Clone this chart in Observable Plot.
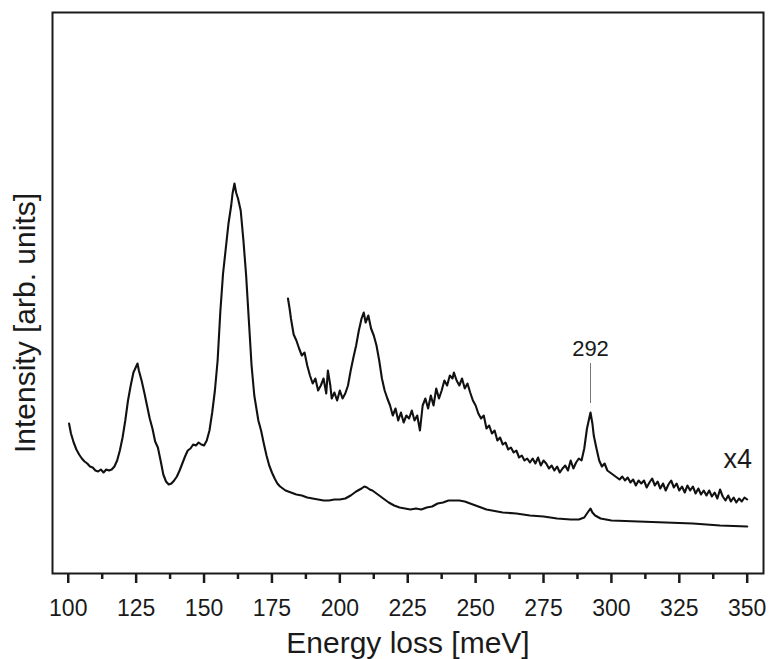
<!DOCTYPE html>
<html><head><meta charset="utf-8">
<script src="https://cdn.jsdelivr.net/npm/d3@7"></script>
<script src="https://cdn.jsdelivr.net/npm/@observablehq/plot@0.6"></script>
<style>body{margin:0;background:#fff}</style>
</head><body><div id="chart"></div>
<script>
// Lower spectrum (as measured)
const lowerE = [100.3,101,102,103,104,105,106,107,108,109,110,111,112,113,114,115,116,117,118,119,120,121,122,123,124,125,125.5,126,127,128,129,130,131,132,133,134,135,136,137,138,139,140,141,142,143,144,145,146,147,148,149,150,151,152,153,154,155,156,157,158,159,160,160.5,161.2,161.8,162.5,163.5,164.5,165.5,166.5,167.5,168.5,170,171,172,173,174,175,176,177,178,179,180,182,184,186,188,190,192,194,196,198,200,202,204,206,208,209,210,211,212,214,216,218,220,222,224,226,228,230,232,234,236,238,240,242,244,246,248,250,252,254,256,258,260,265,270,275,280,285,288,290,291,292.3,293,294,296,298,300,310,320,330,340,350];
const lowerI = [150,140,131,124,119,115,112,110,107,106,103,102,104,101,104,103,104,107,113,123,136,153,173,188,201,207,210,203,193,181,168,155,145,132,126,113,99,92,89,90,93,97,103,110,117,123,125,129,128,131,129,128,133,143,161,183,213,262,300,325,350,368,380,390,381,375,363,333,298,253,208,178,153,143,130,118,108,101,95,90,87,85,83,81,79,78,76,75,74,73,73,74,74,75,78,82,85,87,86,84,83,79,75,71,68,66,65,64,65,64,66,67,70,71,73,73,73,72,70,68,66,64,63,62,61,60,58,57,55,54,54,56,60,65,61,58,55,54,53,52,51,50,48,47];
// Upper spectrum (x4 magnified)
const upperE = [180.9,181.5,182,183,184,185,186,187,188,189,190,191,192,193,194,195,195.6,196.5,197,198,199,200,201,202,203,204,205,206,207,208,208.8,209.5,210.5,211.5,212.5,213.5,214.5,215.5,216.5,217.5,218.5,219.5,220.5,221.5,222.5,223.5,224.5,225.5,226.5,227.5,228.5,229.5,230.5,231.5,232.5,233.5,234.5,235.5,236.5,237.5,238.5,239.5,240.5,241.5,242,243,244,245,246,247,248,249,250,251,252,253,254,255,256,257,258,259,260,261,262,263,264,265,266,267,268,269,270,271,272,273,274,275,276,277,278,279,280,281,282,283,284,285,286,287,288,289,290,291,292.3,293,293.5,294.5,295.5,296.5,297.5,298.5,300,301,302,303,304,305,306,307,308,309,310,311,312,313,314,315,316,317,318,319,320,321,322,323,324,325,326,327,328,329,330,331,332,333,334,335,336,337,338,339,340,341,342,343,344,345,346,347,348,349,350];
const upperI = [275,265,255,239,233,225,218,221,208,198,190,195,183,188,195,180,203,188,175,181,173,183,175,180,188,203,216,228,243,255,261,251,258,245,238,228,213,195,183,175,168,158,165,153,161,151,158,155,163,153,158,143,168,175,165,178,168,185,175,183,193,188,198,195,201,193,188,195,185,190,181,173,168,160,155,158,145,148,140,143,133,136,129,131,124,126,121,123,116,118,113,115,111,115,110,116,108,113,110,105,108,103,107,101,105,108,103,113,105,111,115,113,125,145,161,150,138,125,113,107,110,103,100,98,96,94,97,93,96,91,94,88,93,90,93,86,91,95,88,92,85,90,83,89,93,86,90,83,87,81,88,83,87,80,85,79,83,78,83,77,81,75,84,77,73,78,72,76,71,75,72,76,74];
// Axis ticks
const majorTicks = [100,125,150,175,200,225,250,275,300,325,350];
const minorTicks = [112.5,137.5,162.5,187.5,212.5,237.5,262.5,287.5,312.5,337.5];
// Texts & annotations
const xLabel = "Energy loss [meV]";
const yLabel = "Intensity [arb. units]";
const peakLabel = [{e: 292.3, v: 225, text: "292", v1: 170, v2: 210}];
const scaleLabel = [{e: 351.8, v: 114, text: "x4"}];

const lower = lowerE.map((e, i) => ({e, v: lowerI[i]}));
const upper = upperE.map((e, i) => ({e, v: upperI[i]}));

const chart = Plot.plot({
  width: 769, height: 659,
  marginLeft: 52, marginRight: 6, marginTop: 12, marginBottom: 86,
  style: {fontFamily: "'Liberation Sans', Arial, sans-serif", background: "#fff", color: "#1a1a1a"},
  x: {domain: [94.2, 356]},
  y: {domain: [0, 561]},
  marks: [
    Plot.axisX({ticks: majorTicks, tickSize: 10, tickPadding: 16, fontSize: 23, strokeWidth: 2.5, label: null, tickFormat: d => String(d)}),
    Plot.axisX({ticks: minorTicks, tickSize: 6, strokeWidth: 2.5, label: null, tickFormat: () => ""}),
    Plot.axisY({ticks: [], label: null}),
    Plot.line(lower, {x: "e", y: "v", stroke: "#111", strokeWidth: 2.1}),
    Plot.line(upper, {x: "e", y: "v", stroke: "#111", strokeWidth: 2.1}),
    Plot.ruleX(peakLabel, {x: "e", y1: "v1", y2: "v2", stroke: "#777", strokeWidth: 1}),
    Plot.text(peakLabel, {x: "e", y: "v", text: "text", fontSize: 22, fill: "#1a1a1a"}),
    Plot.text(scaleLabel, {x: "e", y: "v", text: "text", fontSize: 27, textAnchor: "end", fill: "#1a1a1a"}),
    Plot.text([xLabel], {frameAnchor: "bottom", lineAnchor: "middle", dy: 70, text: d => d, fontSize: 30, fill: "#1a1a1a"}),
    Plot.text([yLabel], {frameAnchor: "left", textAnchor: "middle", lineAnchor: "middle", dx: -27, dy: 30, rotate: -90, text: d => d, fontSize: 30, fill: "#1a1a1a"}),
    Plot.frame({stroke: "#1a1a1a", strokeWidth: 2})
  ]
});
document.getElementById("chart").append(chart);
</script>
</body></html>
